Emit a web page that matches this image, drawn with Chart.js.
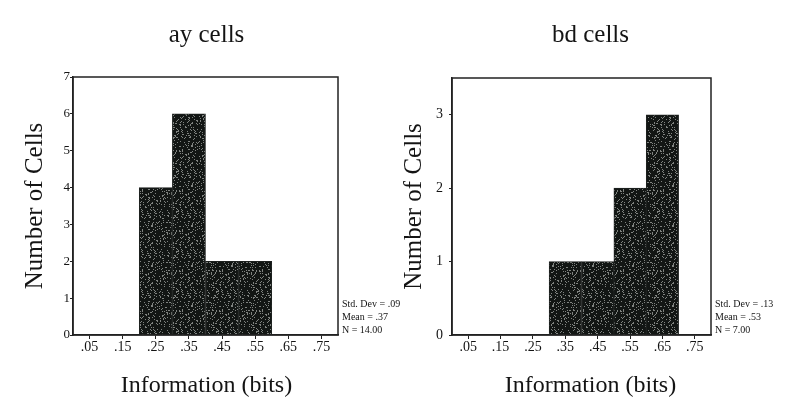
<!DOCTYPE html>
<html>
<head>
<meta charset="utf-8">
<script src="https://cdn.jsdelivr.net/npm/chart.js@4.4.1/dist/chart.umd.min.js"></script>
<style>
  html, body { margin: 0; padding: 0; background: #fff; }
  #wrap { position: relative; width: 802px; height: 418px; overflow: hidden; }
  canvas { position: absolute; top: 0; }
  #ay { left: 0; }
  #bd { left: 401px; }
</style>
</head>
<body>
<div id="wrap">
  <canvas id="ay" width="401" height="418"></canvas>
  <canvas id="bd" width="401" height="418"></canvas>
</div>
<script>
// histogram bins (bin centers) shared by both panels
const binLabels = ['.05', '.15', '.25', '.35', '.45', '.55', '.65', '.75'];

// counts per bin
const ayCounts = [0, 0, 4, 6, 2, 2, 0, 0];
const bdCounts = [0, 0, 0, 1, 1, 2, 3, 0];

// y axis ticks
const ayTicks = [0, 1, 2, 3, 4, 5, 6, 7];
const bdTicks = [0, 1, 2, 3];

const ayStats = ['Std. Dev = .09', 'Mean = .37', 'N = 14.00'];
const bdStats = ['Std. Dev = .13', 'Mean = .53', 'N = 7.00'];

const xTitle = 'Information (bits)';
const yTitle = 'Number of Cells';
const ink = '#141414';
const serif = '"Liberation Serif", "DejaVu Serif", serif';

// speckled dark fill like the scanned bars
function speckle() {
    const c = document.createElement('canvas');
    c.width = c.height = 40;
    const g = c.getContext('2d');
    g.fillStyle = '#121614';
    g.fillRect(0, 0, 40, 40);
    g.fillStyle = 'rgba(200,205,200,0.6)';
    for (let y = 0; y < 40; y++) {
        for (let x = 0; x < 40; x++) {
            let h = (x * 374761393 + y * 668265263) | 0;
            h = Math.imul(h ^ (h >>> 13), 1274126177);
            if (((h ^ (h >>> 16)) & 255) < 38) g.fillRect(x, y, 1, 1);
        }
    }
    return g.createPattern(c, 'repeat');
}

// title, x title, stats box and plot frame
const panelText = {
    id: 'panelText',
    afterDraw(chart, args, opts) {
        const { ctx, chartArea: a } = chart;
        const cx = (a.left + a.right) / 2 + opts.shift;
        ctx.save();
        ctx.fillStyle = ink;
        ctx.textAlign = 'center';
        ctx.textBaseline = 'alphabetic';
        ctx.font = '25px ' + serif;
        ctx.fillText(opts.title, cx, 42);
        ctx.font = '24px ' + serif;
        ctx.fillText(xTitle, cx, 392);

        ctx.textAlign = 'left';
        ctx.font = '10px ' + serif;
        const n = opts.stats.length;
        opts.stats.forEach((s, i) => {
            ctx.fillText(s, a.right + 4, a.bottom - 2 - (n - 1 - i) * 13);
        });

        ctx.strokeStyle = '#222';
        ctx.lineWidth = 1.5;
        ctx.strokeRect(a.left, a.top, a.right - a.left, a.bottom - a.top);
        ctx.restore();
    }
};

function makeHist(id, counts, ticks, yMax, stats, title, geo) {
    const ctx = document.getElementById(id).getContext('2d');
    return new Chart(ctx, {
        type: 'bar',
        data: {
            labels: binLabels,
            datasets: [{
                data: counts,
                backgroundColor: speckle(),
                borderColor: '#1d211f',
                borderWidth: 1,
                barPercentage: 1,
                categoryPercentage: 1
            }]
        },
        options: {
            responsive: false,
            animation: false,
            devicePixelRatio: 1,
            layout: { padding: { top: geo.top, right: geo.right, bottom: 0, left: 0 } },
            plugins: {
                legend: { display: false },
                tooltip: { enabled: false },
                panelText: { title: title, stats: stats, shift: geo.shift }
            },
            scales: {
                x: {
                    grid: { display: true, drawOnChartArea: false, offset: false, tickLength: 4, color: '#222' },
                    border: { display: true, color: '#222', width: 1.5 },
                    ticks: { color: ink, padding: 0, maxRotation: 0, font: { family: serif, size: 14 } },
                    afterFit: s => { s.height = 83; }
                },
                y: {
                    min: 0,
                    max: yMax,
                    afterBuildTicks: s => { s.ticks = ticks.map(v => ({ value: v })); },
                    grid: { display: true, drawOnChartArea: false, tickLength: 3, color: '#222' },
                    border: { display: true, color: '#222', width: 1.5 },
                    ticks: { color: ink, padding: geo.tickPad, font: { family: serif, size: geo.tickSize } },
                    title: {
                        display: true,
                        text: yTitle,
                        color: ink,
                        font: { family: serif, size: 25, lineHeight: 1 },
                        padding: { top: geo.yTitlePad, bottom: 0 }
                    },
                    afterFit: s => { s.width = geo.yWidth; }
                }
            }
        },
        plugins: [panelText]
    });
}

makeHist('ay', ayCounts, ayTicks, 7, ayStats, 'ay cells',
    { top: 77, right: 63, yWidth: 73, yTitlePad: 23, tickPad: 0, tickSize: 13, shift: 1 });
makeHist('bd', bdCounts, bdTicks, 3.5, bdStats, 'bd cells',
    { top: 78, right: 91, yWidth: 51, yTitlePad: 1, tickPad: 6, tickSize: 14, shift: 9 });
</script>
</body>
</html>
